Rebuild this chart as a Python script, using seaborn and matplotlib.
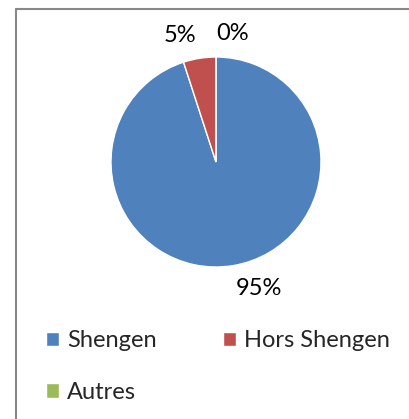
import matplotlib
matplotlib.use("Agg")
import matplotlib.pyplot as plt
from matplotlib.lines import Line2D
import seaborn as sns

sns.set_style("white")
plt.rcParams['font.family'] = ['Lato', 'DejaVu Sans']

categories = ["Shengen", "Hors Shengen", "Autres"]
shares = [95, 5, 0]
colors = ["#4F81BD", "#C0504D", "#9BBB59"]

fig = plt.figure(figsize=(4.09, 4.19), dpi=100)
ax = fig.add_axes([0.2072, 0.3001, 0.6418, 0.6265])

total = sum(shares)
pct_labels = ["{:.0f}%".format(100 * v / total) for v in shares]
wedges, texts = ax.pie(shares, colors=colors, startangle=90, counterclock=False,
                       labels=pct_labels, labeldistance=1.22,
                       textprops={"fontsize": 17, "color": "black"})
# keep the two small labels from overlapping at the top
texts[2].set_ha("left")

# legend filled row by row: Shengen, Hors Shengen / Autres
order = [0, 2, 1]
fig.legend([wedges[i] for i in order], [categories[i] for i in order],
           ncol=2, loc="upper left", bbox_to_anchor=(0.113, 0.212),
           frameon=False, fontsize=17, handlelength=0.55, handleheight=0.55,
           handletextpad=0.34, columnspacing=2.8, labelspacing=1.3,
           borderpad=0, borderaxespad=0)

# chart area border (only top and left visible in the crop)
fig.add_artist(Line2D([15.5 / 409, 15.5 / 409], [0, 1 - 9.5 / 419],
                      transform=fig.transFigure, color="#888888", lw=1.5))
fig.add_artist(Line2D([15.5 / 409, 1], [1 - 9.5 / 419, 1 - 9.5 / 419],
                      transform=fig.transFigure, color="#888888", lw=1.5))

fig.savefig("out.png", dpi=100)
